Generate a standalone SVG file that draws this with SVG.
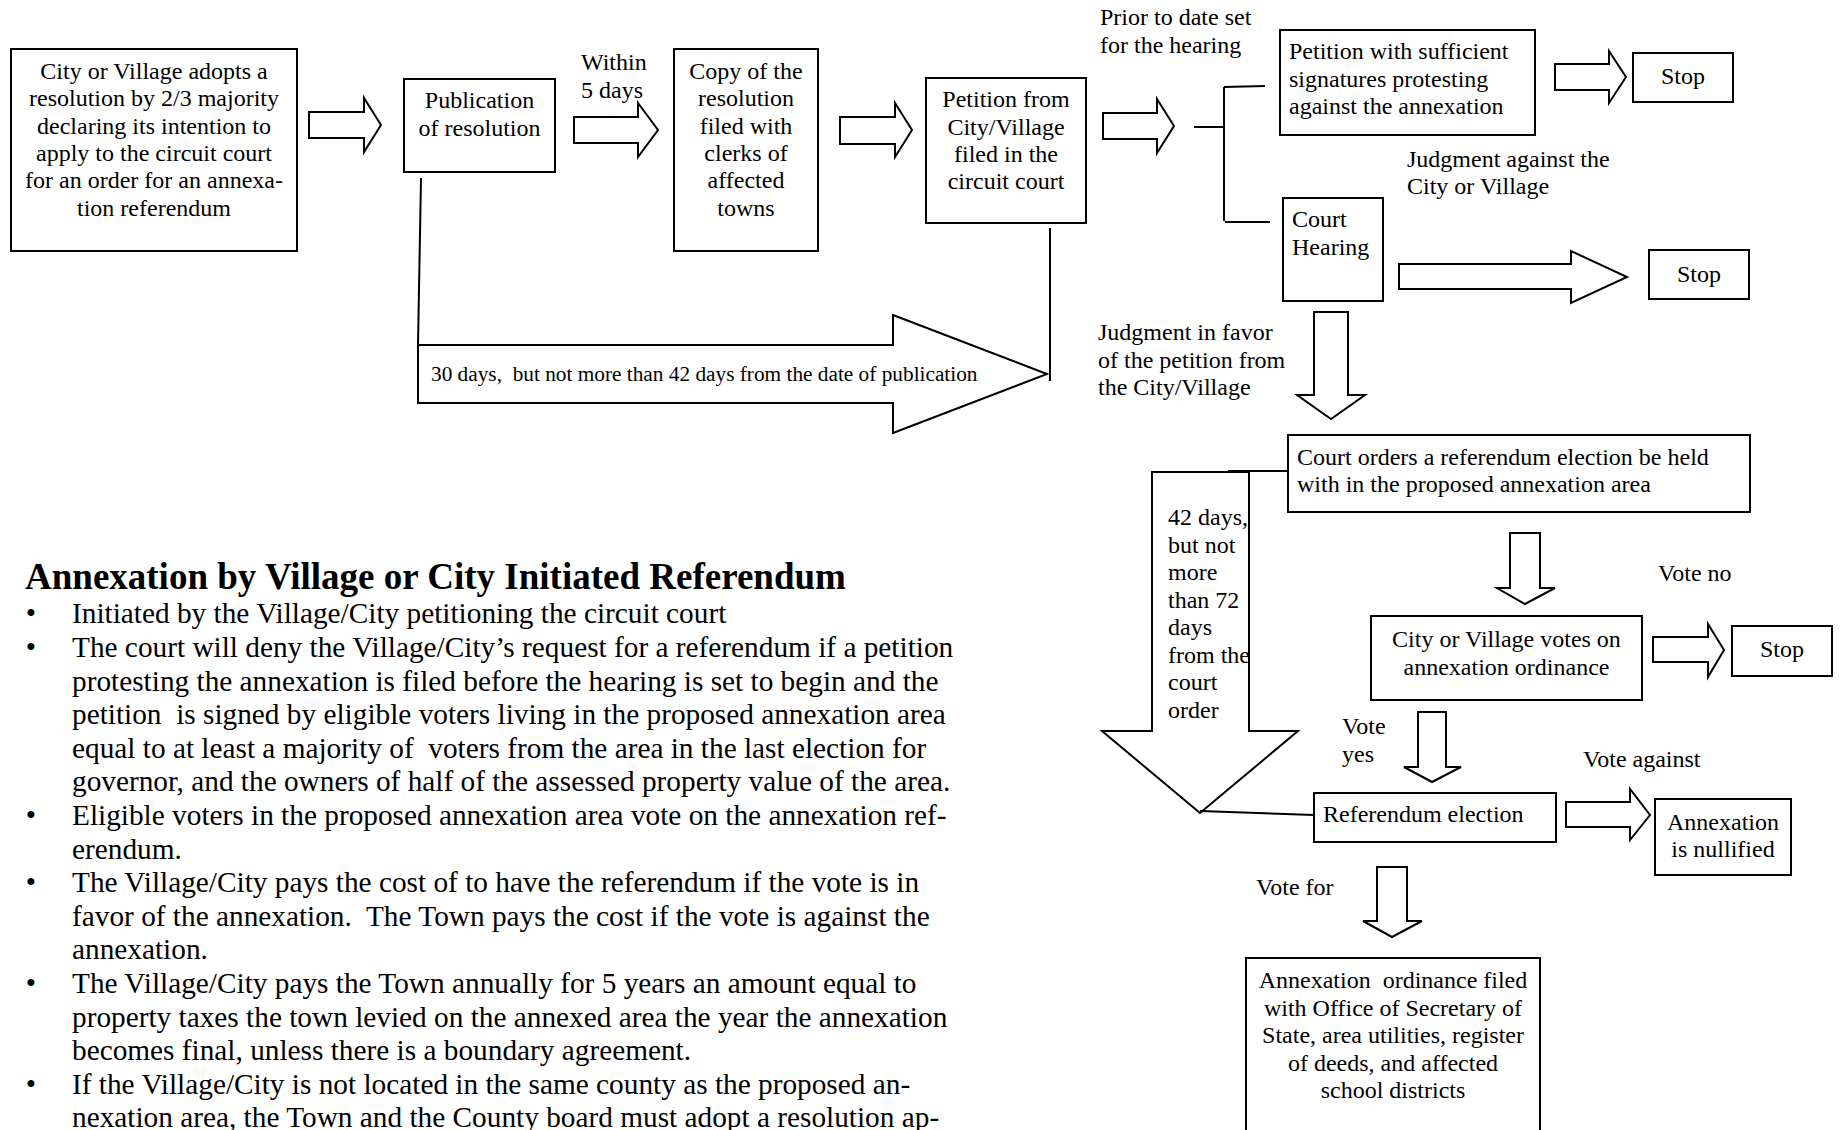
<svg xmlns="http://www.w3.org/2000/svg" width="1843" height="1130" viewBox="0 0 1843 1130">
<style>
text { font-family: "Liberation Serif", "Times New Roman", serif; fill: #000; white-space: pre; }
.t { font-size: 24px; }
.s { font-size: 21.3px; }
.b { font-size: 29.3px; }
.h { font-size: 37px; font-weight: bold; }
.c { text-anchor: middle; }
.box { fill: #fff; stroke: #000; stroke-width: 2; }
.arr { fill: #fff; stroke: #000; stroke-width: 2; stroke-linejoin: miter; }
.ln { fill: none; stroke: #000; stroke-width: 2; }
</style>
<rect width="1843" height="1130" fill="#fff"/>

<g id="connectors">
  <polygon class="arr" points="309,112 364,112 364,98 381,125 364,152 364,138 309,138"/>
  <polygon class="arr" points="574,117 638,117 638,103 658,130 638,157 638,143 574,143"/>
  <polygon class="arr" points="840,117 895,117 895,103 912,130 895,157 895,144 840,144"/>
  <polygon class="arr" points="1103,113 1157,113 1157,99 1174,126 1157,153 1157,139 1103,139"/>
  <polyline class="ln" points="421,178 418,345"/>
  <line class="ln" x1="1050" y1="228" x2="1050" y2="381"/>
  <polygon class="arr" points="418,345 893,345 893,315 1047,374 893,433 893,403 418,403"/>
  <text class="s" x="431" y="381">30 days,  but not more than 42 days from the date of publication</text>
  <line class="ln" x1="1194" y1="127" x2="1224" y2="127"/>
  <line class="ln" x1="1224" y1="87" x2="1224" y2="221"/>
  <line class="ln" x1="1224" y1="87" x2="1265" y2="86"/>
  <line class="ln" x1="1225" y1="222" x2="1270" y2="222"/>
  <polygon class="arr" points="1555,64 1609,64 1609,51 1626,77 1609,103 1609,90 1555,90"/>
  <polygon class="arr" points="1399,264 1571,264 1571,251 1627,277 1571,303 1571,289 1399,289"/>
  <polygon class="arr" points="1314,312 1348,312 1348,395 1365,395 1331,419 1297,395 1314,395"/>
  <polygon class="arr" points="1152,472 1249,472 1249,731 1298,731 1200,813 1102,731 1152,731"/>
  <line class="ln" x1="1228" y1="471" x2="1288" y2="471"/>
  <line class="ln" x1="1200" y1="811" x2="1314" y2="815"/>
  <polygon class="arr" points="1510,533 1540,533 1540,588 1555,588 1525,604 1497,588 1510,588"/>
  <polygon class="arr" points="1653,637 1708,637 1708,624 1724,650 1708,677 1708,662 1653,662"/>
  <polygon class="arr" points="1418,712 1446,712 1446,767 1461,767 1432,782 1404,767 1418,767"/>
  <polygon class="arr" points="1566,802 1630,802 1630,789 1650,815 1630,840 1630,827 1566,827"/>
  <polygon class="arr" points="1377,867 1407,867 1407,921 1422,921 1392,937 1363,921 1377,921"/>
</g>

<g id="labels">
  <text class="t" x="581" y="70">Within</text>
  <text class="t" x="581" y="98">5 days</text>
  <text class="t" x="1100" y="25">Prior to date set</text>
  <text class="t" x="1100" y="53">for the hearing</text>
  <text class="t" x="1407" y="167">Judgment against the</text>
  <text class="t" x="1407" y="194">City or Village</text>
  <text class="t" x="1098" y="340">Judgment in favor</text>
  <text class="t" x="1098" y="368">of the petition from</text>
  <text class="t" x="1098" y="395">the City/Village</text>
  <g id="label-42days">
    <text class="t" x="1168" y="525">42 days,</text>
    <text class="t" x="1168" y="553">but not</text>
    <text class="t" x="1168" y="580">more</text>
    <text class="t" x="1168" y="608">than 72</text>
    <text class="t" x="1168" y="635">days</text>
    <text class="t" x="1168" y="663">from the</text>
    <text class="t" x="1168" y="690">court</text>
    <text class="t" x="1168" y="718">order</text>
  </g>
  <text class="t" x="1658" y="581">Vote no</text>
  <text class="t" x="1342" y="734">Vote</text>
  <text class="t" x="1342" y="762">yes</text>
  <text class="t" x="1583" y="767">Vote against</text>
  <text class="t" x="1256" y="895">Vote for</text>
</g>

<g id="n-adopt">
  <rect class="box" x="11" y="49" width="286" height="202"/>
  <text class="t c" x="154" y="79">City or Village adopts a</text>
  <text class="t c" x="154" y="106.3">resolution by 2/3 majority</text>
  <text class="t c" x="154" y="133.6">declaring its intention to</text>
  <text class="t c" x="154" y="161">apply to the circuit court</text>
  <text class="t c" x="154" y="188.3">for an order for an annexa-</text>
  <text class="t c" x="154" y="215.6">tion referendum</text>
</g>
<g id="n-publication">
  <rect class="box" x="404" y="79" width="151" height="93"/>
  <text class="t c" x="479.5" y="108">Publication</text>
  <text class="t c" x="479.5" y="136">of resolution</text>
</g>
<g id="n-copy">
  <rect class="box" x="674" y="49" width="144" height="202"/>
  <text class="t c" x="746" y="79">Copy of the</text>
  <text class="t c" x="746" y="106.3">resolution</text>
  <text class="t c" x="746" y="133.6">filed with</text>
  <text class="t c" x="746" y="161">clerks of</text>
  <text class="t c" x="746" y="188.3">affected</text>
  <text class="t c" x="746" y="215.6">towns</text>
</g>
<g id="n-petition-city">
  <rect class="box" x="926" y="78" width="160" height="145"/>
  <text class="t c" x="1006" y="107">Petition from</text>
  <text class="t c" x="1006" y="134.5">City/Village</text>
  <text class="t c" x="1006" y="162">filed in the</text>
  <text class="t c" x="1006" y="189">circuit court</text>
</g>
<g id="n-petition-protest">
  <rect class="box" x="1280" y="30" width="255" height="105"/>
  <text class="t" x="1289" y="59">Petition with sufficient</text>
  <text class="t" x="1289" y="86.5">signatures protesting</text>
  <text class="t" x="1289" y="114">against the annexation</text>
</g>
<g id="n-stop1">
  <rect class="box" x="1633" y="53" width="100" height="49"/>
  <text class="t c" x="1683" y="84">Stop</text>
</g>
<g id="n-hearing">
  <rect class="box" x="1283" y="198" width="100" height="103"/>
  <text class="t" x="1292" y="227">Court</text>
  <text class="t" x="1292" y="255">Hearing</text>
</g>
<g id="n-stop2">
  <rect class="box" x="1649" y="250" width="100" height="49"/>
  <text class="t c" x="1699" y="282">Stop</text>
</g>
<g id="n-court-orders">
  <rect class="box" x="1288" y="435" width="462" height="77"/>
  <text class="t" x="1297" y="465">Court orders a referendum election be held</text>
  <text class="t" x="1297" y="492">with in the proposed annexation area</text>
</g>
<g id="n-votes">
  <rect class="box" x="1371" y="616" width="271" height="84"/>
  <text class="t c" x="1506.5" y="647">City or Village votes on</text>
  <text class="t c" x="1506.5" y="675">annexation ordinance</text>
</g>
<g id="n-stop3">
  <rect class="box" x="1732" y="626" width="100" height="50"/>
  <text class="t c" x="1782" y="657">Stop</text>
</g>
<g id="n-referendum">
  <rect class="box" x="1314" y="793" width="242" height="49"/>
  <text class="t" x="1323" y="822">Referendum election</text>
</g>
<g id="n-nullified">
  <rect class="box" x="1655" y="799" width="136" height="76"/>
  <text class="t c" x="1723" y="830">Annexation</text>
  <text class="t c" x="1723" y="857">is nullified</text>
</g>
<g id="n-filed">
  <rect class="box" x="1246" y="958" width="294" height="200"/>
  <text class="t c" x="1393" y="988">Annexation  ordinance filed</text>
  <text class="t c" x="1393" y="1015.5">with Office of Secretary of</text>
  <text class="t c" x="1393" y="1043">State, area utilities, register</text>
  <text class="t c" x="1393" y="1070.5">of deeds, and affected</text>
  <text class="t c" x="1393" y="1098">school districts</text>
</g>

<g id="summary">
  <text class="h" x="25" y="589">Annexation by Village or City Initiated Referendum</text>
  <g class="b">
    <text class="b c" x="31" y="623.3">•</text>
    <text class="b" x="72" y="623.3">Initiated by the Village/City petitioning the circuit court</text>
    <text class="b c" x="31" y="656.9">•</text>
    <text class="b" x="72" y="656.9">The court will deny the Village/City’s request for a referendum if a petition</text>
    <text class="b" x="72" y="690.5">protesting the annexation is filed before the hearing is set to begin and the</text>
    <text class="b" x="72" y="724.1">petition  is signed by eligible voters living in the proposed annexation area</text>
    <text class="b" x="72" y="757.7">equal to at least a majority of  voters from the area in the last election for</text>
    <text class="b" x="72" y="791.3">governor, and the owners of half of the assessed property value of the area.</text>
    <text class="b c" x="31" y="824.9">•</text>
    <text class="b" x="72" y="824.9">Eligible voters in the proposed annexation area vote on the annexation ref-</text>
    <text class="b" x="72" y="858.5">erendum.</text>
    <text class="b c" x="31" y="892.1">•</text>
    <text class="b" x="72" y="892.1">The Village/City pays the cost of to have the referendum if the vote is in</text>
    <text class="b" x="72" y="925.7">favor of the annexation.  The Town pays the cost if the vote is against the</text>
    <text class="b" x="72" y="959.3">annexation.</text>
    <text class="b c" x="31" y="992.9">•</text>
    <text class="b" x="72" y="992.9">The Village/City pays the Town annually for 5 years an amount equal to</text>
    <text class="b" x="72" y="1026.5">property taxes the town levied on the annexed area the year the annexation</text>
    <text class="b" x="72" y="1060.1">becomes final, unless there is a boundary agreement.</text>
    <text class="b c" x="31" y="1093.7">•</text>
    <text class="b" x="72" y="1093.7">If the Village/City is not located in the same county as the proposed an-</text>
    <text class="b" x="72" y="1127.3">nexation area, the Town and the County board must adopt a resolution ap-</text>
  </g>
</g>
</svg>
